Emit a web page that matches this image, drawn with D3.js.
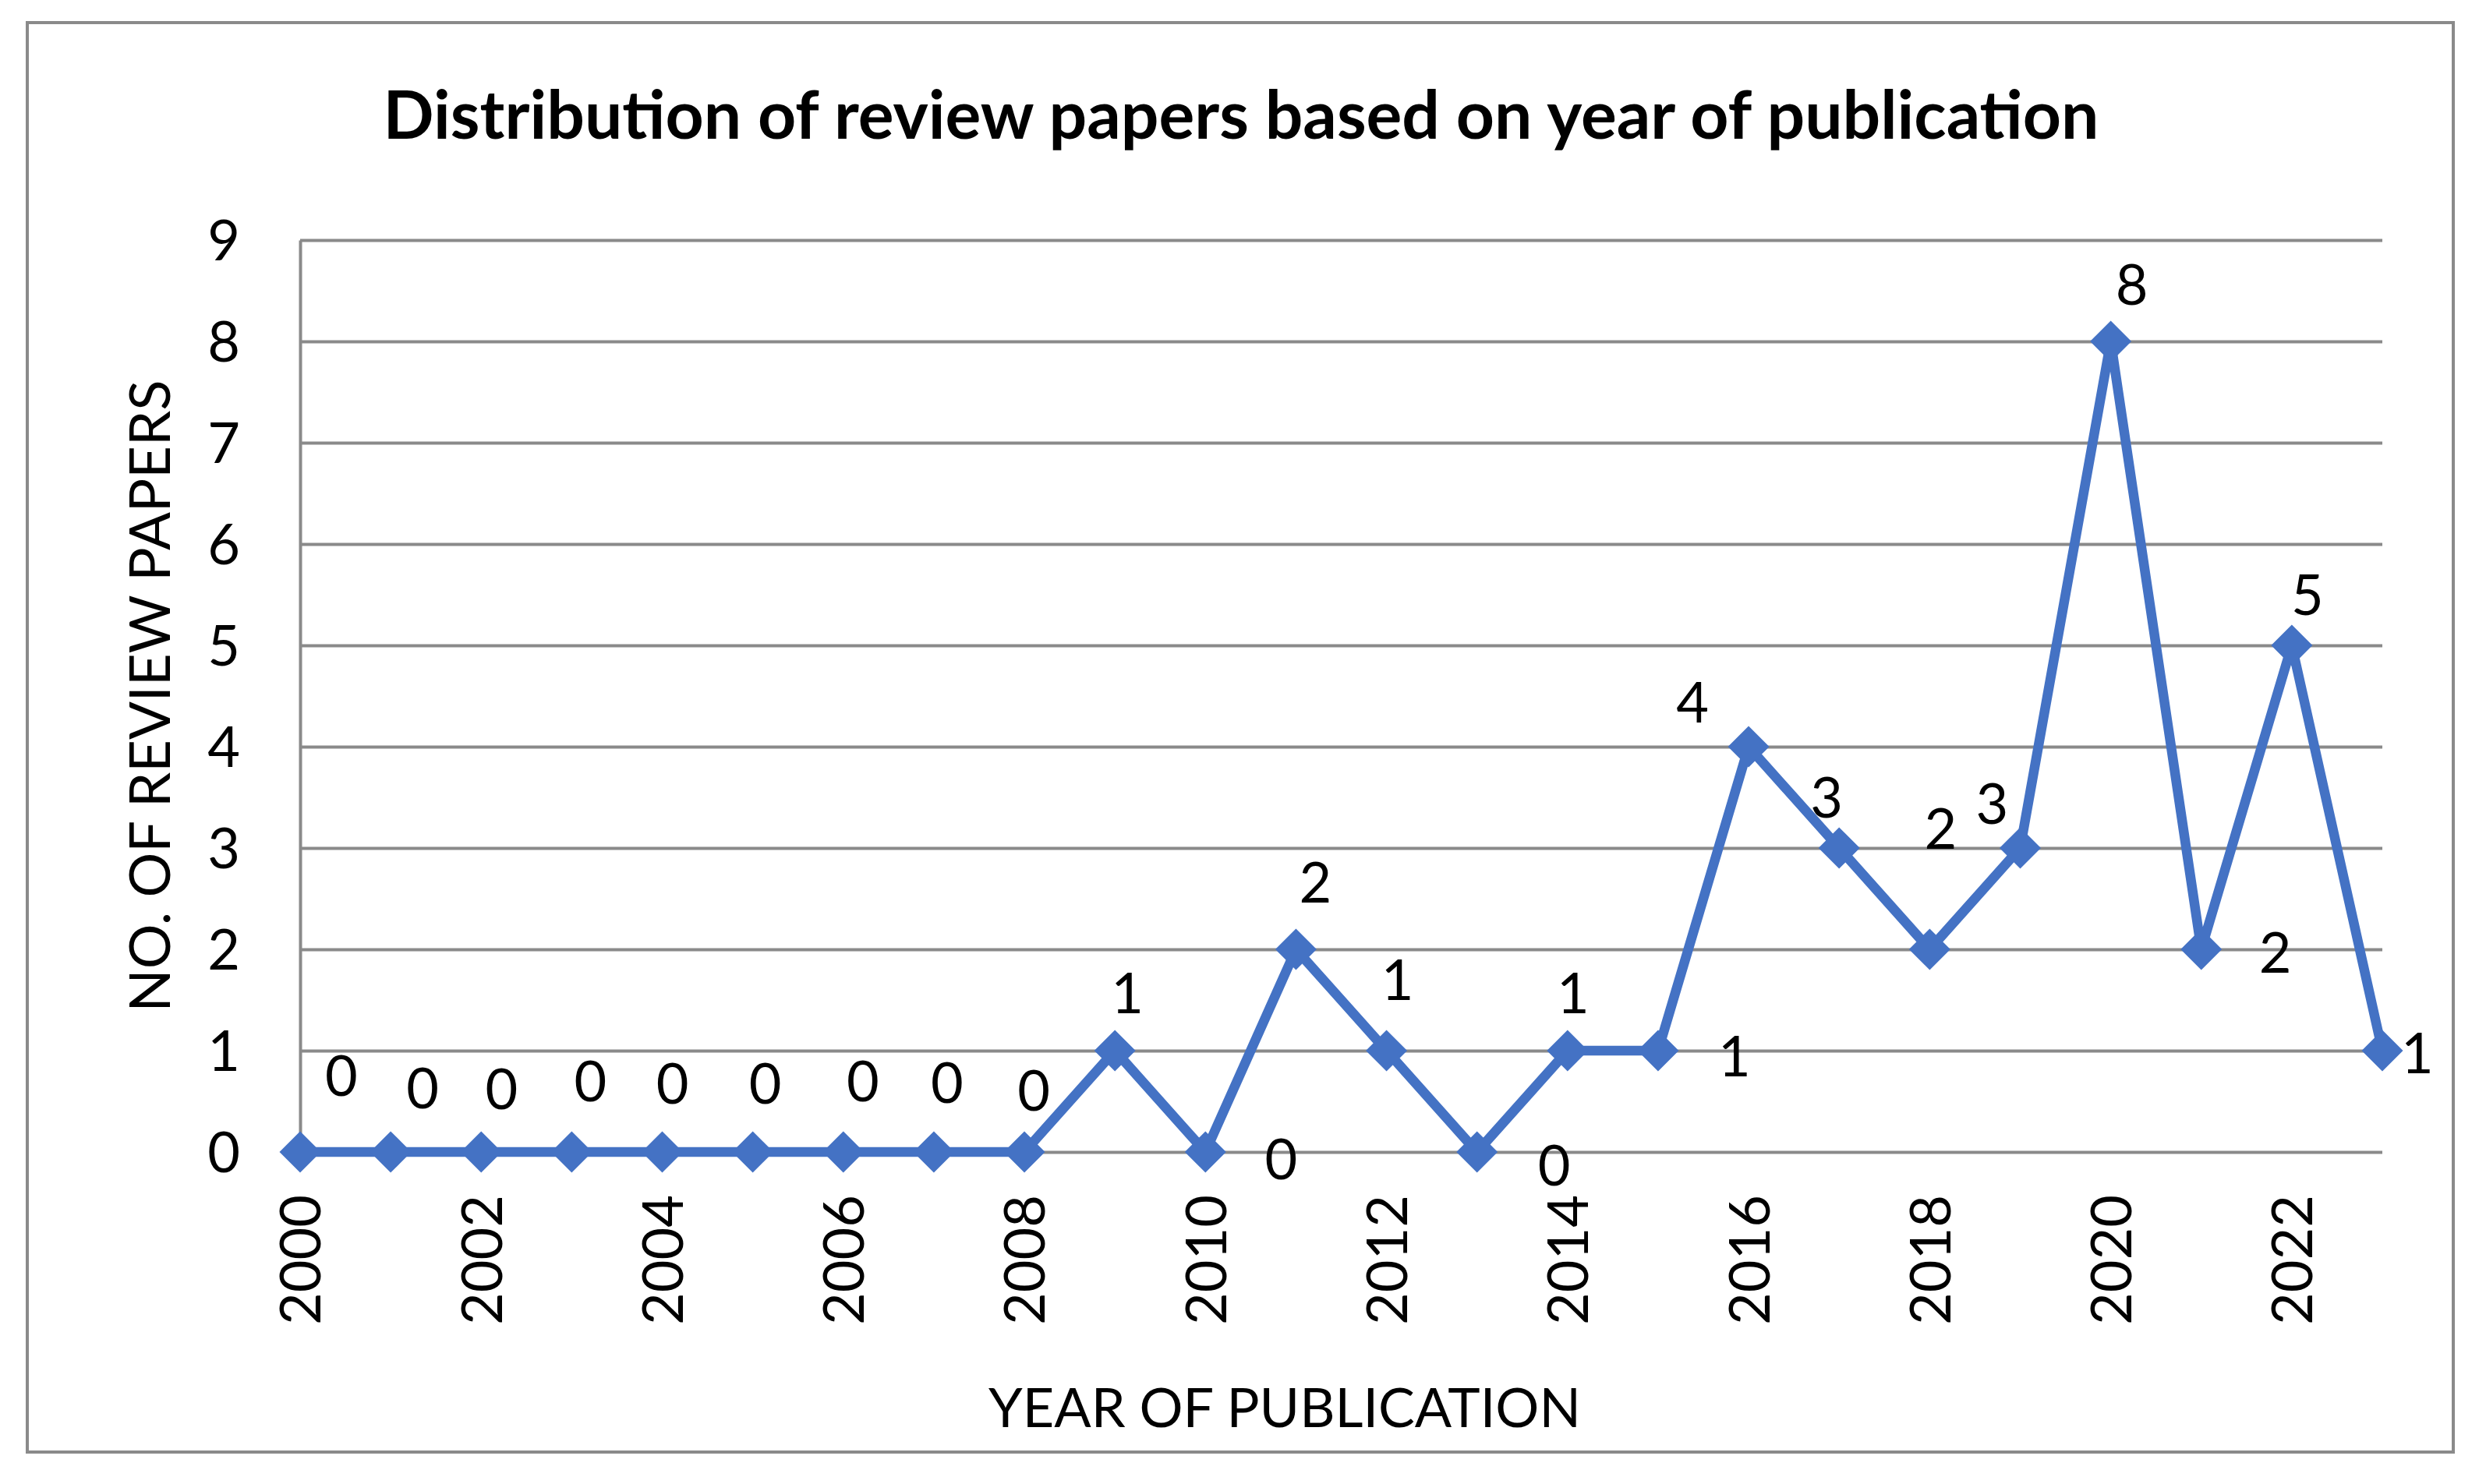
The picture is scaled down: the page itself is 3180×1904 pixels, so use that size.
<!DOCTYPE html>
<html>
<head>
<meta charset="utf-8">
<script src="https://cdn.jsdelivr.net/npm/d3@7"></script>
<style>
  html, body { margin: 0; padding: 0; background: #ffffff; }
  svg { display: block; }
  text { font-family: Lato, "Open Sans", sans-serif; fill: #000; }
</style>
</head>
<body>
<svg id="chart" width="3180" height="1904"></svg>
<script>
// ---- data ----
const years = [2000, 2001, 2002, 2003, 2004, 2005, 2006, 2007, 2008, 2009, 2010, 2011,
               2012, 2013, 2014, 2015, 2016, 2017, 2018, 2019, 2020, 2021, 2022, 2023];
const papers = [0, 0, 0, 0, 0, 0, 0, 0, 0, 1, 0, 2,
                1, 0, 1, 1, 4, 3, 2, 3, 8, 2, 5, 1];
const xTickYears = [2000, 2002, 2004, 2006, 2008, 2010, 2012, 2014, 2016, 2018, 2020, 2022];
const yTicks = [0, 1, 2, 3, 4, 5, 6, 7, 8, 9];
const titleText = "Distribution of review papers based on year of publication";
const xTitleText = "YEAR OF PUBLICATION";
const yTitleText = "NO. OF REVIEW PAPERS";

// ---- layout (label nudges in px, relative to each point) ----
const labelNudge = [[53,-98],[41,-82],[26,-81],[24,-91],[13,-88],[16,-88],[25,-91],[17,-89],[12,-79],
                    [16,-74],[97,9],[25,-86],[14,-91],[99,17],[7,-74],[98,7],[-72,-57],[-16,-65],
                    [14,-155],[-36,-57],[27,-73],[95,4],[20,-65],[45,3]];

const svg = d3.select("#chart");
const grey = "#8a8a8a";
const blue = "#4472C4";
const L = 385, R = 3056, T = 308, B = 1478;

const x = d3.scaleLinear().domain([2000, 2023]).range([L, R]);
const y = d3.scaleLinear().domain([0, 9]).range([B, T]);

// outer border
svg.append("rect").attr("x", 35).attr("y", 29).attr("width", 3112).attr("height", 1834)
  .attr("fill", "#fff").attr("stroke", grey).attr("stroke-width", 4);

// y axis with gridlines
const yAxis = svg.append("g").attr("transform", `translate(${L},0)`)
  .call(d3.axisLeft(y).tickValues(yTicks).tickFormat(d3.format("d"))
        .tickSize(-(R - L)).tickSizeOuter(0).tickPadding(77));
yAxis.selectAll(".tick line").attr("stroke", grey).attr("stroke-width", 4);
yAxis.select(".domain").attr("stroke", grey).attr("stroke-width", 4);
yAxis.selectAll(".tick text").attr("font-size", 72).attr("font-family", "Lato").attr("fill", "#000").attr("dy", "0.36em");

// x axis labels
const xAxis = svg.append("g").attr("transform", `translate(0,${B})`)
  .call(d3.axisBottom(x).tickValues(xTickYears).tickFormat(d3.format("d")).tickSize(0));
xAxis.select(".domain").remove();
xAxis.selectAll(".tick text")
  .attr("font-size", 72).attr("font-family", "Lato").attr("fill", "#000")
  .attr("transform", "rotate(-90)")
  .attr("text-anchor", "end")
  .attr("x", -55).attr("y", 0).attr("dy", "0.36em");

// line
const line = d3.line().x((d, i) => x(years[i])).y(d => y(d));
svg.append("path").datum(papers).attr("d", line)
  .attr("fill", "none").attr("stroke", blue).attr("stroke-width", 12.5)
  .attr("stroke-linejoin", "miter");

// diamond markers
const diamond = d3.symbol().type(d3.symbolSquare).size(1406);
svg.append("g").selectAll("path").data(papers).join("path")
  .attr("d", diamond)
  .attr("transform", (d, i) => `translate(${x(years[i])},${y(d)}) rotate(45)`)
  .attr("fill", blue);

// data labels
svg.append("g").selectAll("text").data(papers).join("text")
  .attr("x", (d, i) => x(years[i]) + labelNudge[i][0])
  .attr("y", (d, i) => y(d) + labelNudge[i][1])
  .attr("dy", "0.36em")
  .attr("text-anchor", "middle")
  .attr("font-size", 72)
  .text(d => d);

function fit(sel, target) {
  const w = sel.node().getComputedTextLength();
  const fs = parseFloat(sel.attr("font-size"));
  sel.attr("font-size", fs * target / w);
}

// title
const title = svg.append("text").attr("x", 1592).attr("y", 178)
  .attr("text-anchor", "middle").attr("font-weight", 700).attr("font-size", 76)
  .text(titleText);
fit(title, 2201);

// x title
const xt = svg.append("text").attr("x", 1648).attr("y", 1831)
  .attr("text-anchor", "middle").attr("font-size", 72).text(xTitleText);
fit(xt, 760);

// y title
const yt = svg.append("text").attr("transform", "translate(192,893) rotate(-90)")
  .attr("text-anchor", "middle").attr("dy", "0.36em").attr("font-size", 72).text(yTitleText);
fit(yt, 811);
</script>
</body>
</html>
